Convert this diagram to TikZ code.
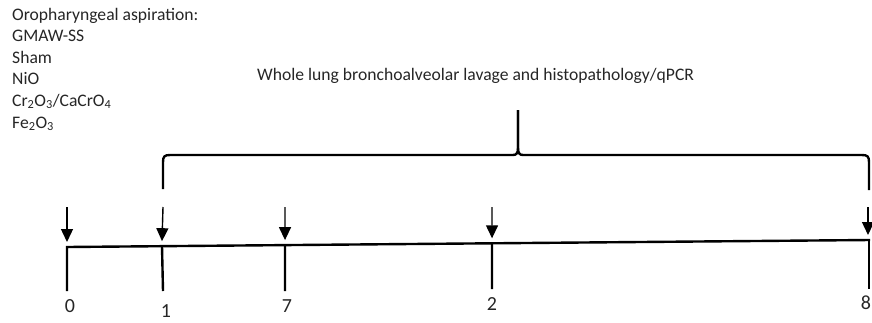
\documentclass[tikz,border=0pt]{standalone}
\usepackage{fontspec}
\setmainfont{Carlito}
\usetikzlibrary{arrows.meta,calc}
\begin{document}
\begin{tikzpicture}[x=1pt,y=-1pt,
  line/.style={line width=2.4pt},
  drop/.style={line width=1.4pt,-{Triangle[width=12pt,length=13pt]}},
  day/.style={font=\fontsize{20}{24}\selectfont, inner sep=0pt, text=black!85},
  txt/.style={font=\fontsize{17.6}{21.6}\selectfont, inner sep=0pt, anchor=base west, text=black!85}]
\useasboundingbox (0,0) rectangle (872,322);
\clip (0,0) rectangle (872,322);

% exposure list
\node[txt] (h)  at (12,20)    {Oropharyngeal aspiration:};
\node[txt] (g1) at (12,41.6)  {GMAW-SS};
\node[txt] (g2) at (12,63.2)  {Sham};
\node[txt] (g3) at (12,84.8)  {NiO};
\node[txt] (g4) at (12,106.4) {Cr\textsubscript{2}O\textsubscript{3}/CaCrO\textsubscript{4}};
\node[txt] (g5) at (12,128)   {Fe\textsubscript{2}O\textsubscript{3}};

% endpoint label above the brace
\node[txt] (ep) at (257,80) {Whole lung bronchoalveolar lavage and histopathology/qPCR};

% curly brace spanning day 1 to the last time point
\coordinate (bl) at (163,189);
\coordinate (bt) at (518,110);
\coordinate (br) at (869,190);
\draw[line] (bl) -- (163,162) .. controls (163,156.5) and (164.5,155) .. (170,155)
  -- (513,155) .. controls (516.5,155) and (518,153) .. (518,148) -- (bt);
\draw[line] (bt) -- (518,148) .. controls (518,153) and (519.5,155) .. (523,155)
  -- (862,155) .. controls (867.5,155) and (869,156.5) .. (869,162) -- (br);

% timeline
\coordinate (a0) at (67,247);
\coordinate (a8) at (870,240);
\coordinate (t1) at ($(a0)!0.1183!(a8)$);
\coordinate (t7) at ($(a0)!0.2715!(a8)$);
\coordinate (t2) at ($(a0)!0.5293!(a8)$);
\coordinate (b0) at (67,291);
\coordinate (b1) at (163,291);
\coordinate (b7) at (285,291);
\coordinate (b2) at (492,289);
\coordinate (b8) at (869,289);
\draw[line,line join=miter] (b0) -- (a0) -- (a8);
\draw[line] (t1) -- (b1);
\draw[line] (t7) -- (b7);
\draw[line] (t2) -- (b2);
\draw[line] (869,240) -- (b8);

% dosing / sampling arrows
\coordinate (d0) at (67,207);
\coordinate (d1) at (163,207);
\coordinate (d7) at (285,207);
\coordinate (d2) at (492,207);
\coordinate (d8) at (868,207);
\draw[drop] (d0) -- ($(a0)+(0,-5)$);
\draw[drop] (d1) -- ($(t1)+(0,-5)$);
\draw[drop] (d7) -- ($(t7)+(0,-5)$);
\draw[drop] (d2) -- ($(t2)+(0,-5)$);
\draw[drop] (d8) -- (868,235);

% day labels
\node[day] (l0) at (70,306) {0};
\node[day] (l1) at (166,311) {1};
\node[day] (l7) at (287,306) {7};
\node[day] (l2) at (492,304) {2};
\node[day] (l8) at (866,303) {8};
\end{tikzpicture}
\end{document}
